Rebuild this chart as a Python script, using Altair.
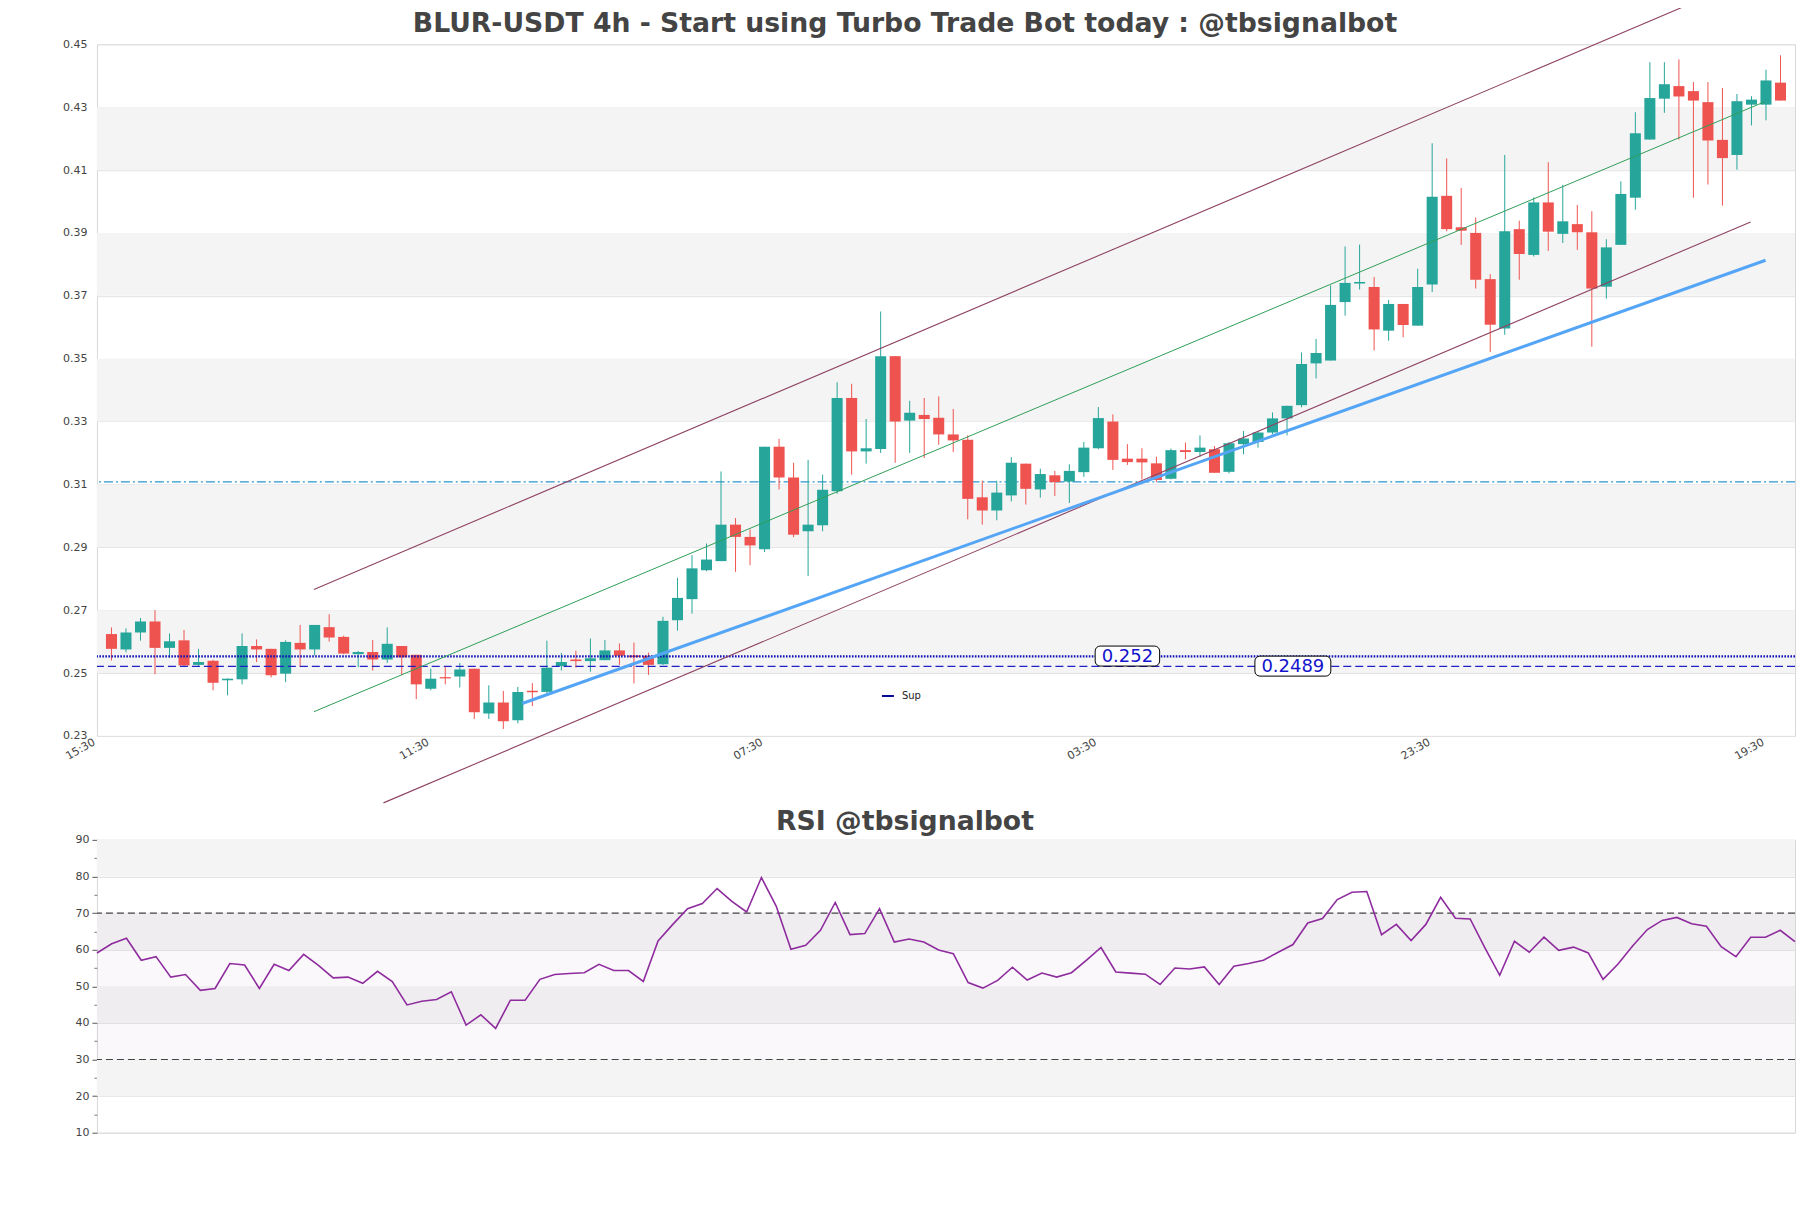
import altair as alt
import pandas as pd

TITLE = "BLUR-USDT 4h - Start using Turbo Trade Bot today : @tbsignalbot"
RSI_TITLE = "RSI @tbsignalbot"

OPEN = [0.2624, 0.2575, 0.2629, 0.2664, 0.2580, 0.2604, 0.2526, 0.2539, 0.2477, 0.2480,
        0.2586, 0.2577, 0.2498, 0.2596, 0.2575, 0.2646, 0.2615, 0.2560, 0.2567, 0.2543,
        0.2586, 0.2558, 0.2450, 0.2487, 0.2489, 0.2514, 0.2371, 0.2406, 0.2350, 0.2444,
        0.2440, 0.2522, 0.2543, 0.2538, 0.2541, 0.2572, 0.2556, 0.2555, 0.2528, 0.2668,
        0.2735, 0.2827, 0.2856, 0.2972, 0.2933, 0.2894, 0.3220, 0.3122, 0.2951, 0.2970,
        0.3078, 0.3375, 0.3205, 0.3213, 0.3508, 0.3303, 0.3321, 0.3312, 0.3259, 0.3242,
        0.3059, 0.3017, 0.3065, 0.3166, 0.3084, 0.3129, 0.3109, 0.3139, 0.3215, 0.3300,
        0.3182, 0.3182, 0.3167, 0.3118, 0.3209, 0.3203, 0.3212, 0.3140, 0.3228, 0.3235,
        0.3265, 0.3310, 0.3352, 0.3485, 0.3494, 0.3680, 0.3739, 0.3728, 0.3589, 0.3674,
        0.3605, 0.3736, 0.4018, 0.3918, 0.3900, 0.3753, 0.3596, 0.3912, 0.3830, 0.3997,
        0.3897, 0.3928, 0.3902, 0.3729, 0.3862, 0.4012, 0.4197, 0.4327, 0.4367, 0.4351,
        0.4316, 0.4196, 0.4148, 0.4308, 0.4308, 0.4378]
HIGH = [0.2645, 0.2642, 0.2675, 0.2700, 0.2626, 0.2637, 0.2577, 0.2542, 0.2483, 0.2626,
        0.2607, 0.2577, 0.2604, 0.2653, 0.2653, 0.2687, 0.2619, 0.2570, 0.2605, 0.2645,
        0.2586, 0.2558, 0.2514, 0.2522, 0.2532, 0.2514, 0.2461, 0.2443, 0.2456, 0.2468,
        0.2603, 0.2564, 0.2571, 0.2610, 0.2605, 0.2594, 0.2597, 0.2565, 0.2679, 0.2803,
        0.2875, 0.2912, 0.3141, 0.2993, 0.2957, 0.3220, 0.3245, 0.3169, 0.3178, 0.3131,
        0.3425, 0.3420, 0.3308, 0.3650, 0.3508, 0.3366, 0.3375, 0.3380, 0.3340, 0.3256,
        0.3112, 0.3112, 0.3187, 0.3166, 0.3150, 0.3143, 0.3164, 0.3235, 0.3346, 0.3323,
        0.3228, 0.3215, 0.3188, 0.3214, 0.3233, 0.3256, 0.3222, 0.3235, 0.3270, 0.3270,
        0.3329, 0.3350, 0.3520, 0.3563, 0.3733, 0.3857, 0.3863, 0.3760, 0.3687, 0.3674,
        0.3786, 0.4185, 0.4137, 0.4043, 0.3949, 0.3769, 0.4148, 0.3939, 0.4013, 0.4125,
        0.4053, 0.3989, 0.3969, 0.3880, 0.4064, 0.4284, 0.4443, 0.4443, 0.4452, 0.4380,
        0.4380, 0.4361, 0.4342, 0.4335, 0.4419, 0.4465]
LOW = [0.2540, 0.2566, 0.2603, 0.2496, 0.2548, 0.2522, 0.2522, 0.2445, 0.2429, 0.2464,
       0.2535, 0.2486, 0.2471, 0.2519, 0.2556, 0.2600, 0.2560, 0.2519, 0.2508, 0.2532,
       0.2493, 0.2417, 0.2445, 0.2464, 0.2454, 0.2354, 0.2354, 0.2322, 0.2340, 0.2395,
       0.2435, 0.2508, 0.2517, 0.2504, 0.2541, 0.2526, 0.2467, 0.2494, 0.2526, 0.2635,
       0.2689, 0.2824, 0.2856, 0.2822, 0.2843, 0.2885, 0.3084, 0.2932, 0.2809, 0.2951,
       0.3070, 0.3131, 0.3166, 0.3200, 0.3169, 0.3200, 0.3184, 0.3226, 0.3203, 0.2989,
       0.2972, 0.2986, 0.3046, 0.3036, 0.3058, 0.3063, 0.3041, 0.3124, 0.3212, 0.3146,
       0.3162, 0.3116, 0.3107, 0.3116, 0.3180, 0.3188, 0.3137, 0.3135, 0.3196, 0.3217,
       0.3260, 0.3256, 0.3345, 0.3437, 0.3494, 0.3637, 0.3720, 0.3526, 0.3557, 0.3568,
       0.3605, 0.3712, 0.3905, 0.3862, 0.3723, 0.3521, 0.3576, 0.3751, 0.3825, 0.3843,
       0.3868, 0.3846, 0.3538, 0.3691, 0.3862, 0.3974, 0.4197, 0.4282, 0.4197, 0.4012,
       0.4054, 0.3987, 0.4101, 0.4242, 0.4258, 0.4321]
CLOSE = [0.2577, 0.2629, 0.2664, 0.2580, 0.2601, 0.2524, 0.2535, 0.2469, 0.2482, 0.2586,
         0.2575, 0.2493, 0.2599, 0.2575, 0.2653, 0.2613, 0.2562, 0.2567, 0.2543, 0.2593,
         0.2550, 0.2464, 0.2482, 0.2483, 0.2511, 0.2375, 0.2406, 0.2347, 0.2440, 0.2439,
         0.2517, 0.2535, 0.2538, 0.2547, 0.2572, 0.2555, 0.2553, 0.2526, 0.2666, 0.2739,
         0.2833, 0.2861, 0.2972, 0.2933, 0.2906, 0.3220, 0.3122, 0.2940, 0.2972, 0.3083,
         0.3375, 0.3205, 0.3215, 0.3508, 0.3300, 0.3328, 0.3308, 0.3259, 0.3240, 0.3054,
         0.3017, 0.3074, 0.3169, 0.3086, 0.3133, 0.3107, 0.3143, 0.3217, 0.3311, 0.3178,
         0.3171, 0.3170, 0.3114, 0.3209, 0.3203, 0.3217, 0.3137, 0.3231, 0.3246, 0.3265,
         0.3310, 0.3350, 0.3483, 0.3518, 0.3671, 0.3741, 0.3744, 0.3593, 0.3674, 0.3607,
         0.3728, 0.4015, 0.3912, 0.3907, 0.3751, 0.3608, 0.3905, 0.3833, 0.3997, 0.3904,
         0.3937, 0.3902, 0.3723, 0.3854, 0.4024, 0.4217, 0.4329, 0.4373, 0.4334, 0.4321,
         0.4194, 0.4138, 0.4319, 0.4324, 0.4385, 0.4321]

RSI = [59.1, 61.6, 63.1, 57.1, 58.1, 52.5, 53.2, 48.9, 49.4, 56.2,
       55.8, 49.4, 56.0, 54.3, 58.7, 55.7, 52.3, 52.5, 50.8, 54.1,
       51.3, 44.9, 45.9, 46.4, 48.5, 39.4, 42.2, 38.5, 46.2, 46.2,
       51.9, 53.2, 53.5, 53.7, 56.0, 54.3, 54.3, 51.3, 62.4, 66.9,
       71.2, 72.6, 76.7, 73.2, 70.3, 79.7, 71.9, 60.1, 61.2, 65.3,
       72.9, 64.1, 64.4, 71.2, 62.1, 62.9, 62.1, 59.9, 58.9, 51.0,
       49.5, 51.6, 55.2, 51.7, 53.6, 52.5, 53.7, 57.1, 60.6, 53.9,
       53.6, 53.3, 50.5, 55.0, 54.7, 55.3, 50.5, 55.5, 56.2, 57.1,
       59.3, 61.4, 67.3, 68.5, 73.7, 75.7, 75.9, 64.1, 66.9, 62.5,
       66.9, 74.3, 68.6, 68.4, 60.5, 53.0, 62.3, 59.3, 63.4, 59.8,
       60.7, 59.1, 51.9, 56.0, 61.0, 65.5, 68.0, 68.8, 67.1, 66.4,
       60.8, 58.1, 63.4, 63.4, 65.3, 62.2]

TICK_POS = [-1, 22, 45, 68, 91, 114]
TICK_LABELS = ["15:30", "11:30", "07:30", "03:30", "23:30", "19:30"]
PRICE_TICKS = [0.23, 0.25, 0.27, 0.29, 0.31, 0.33, 0.35, 0.37, 0.39, 0.41, 0.43, 0.45]
PRICE_BAND_LO = [0.25, 0.29, 0.33, 0.37, 0.41]
PRICE_BAND_HI = [0.27, 0.31, 0.35, 0.39, 0.43]
RSI_TICKS = [10, 20, 30, 40, 50, 60, 70, 80, 90]
RSI_MINOR = [15, 25, 35, 45, 55, 65, 75, 85]
RSI_BAND_LO = [20, 40, 60, 80]
RSI_BAND_HI = [30, 50, 70, 90]
RSI_LEVELS = [70, 30]

TREND_NAME = ["upper", "middle", "lower", "support"]
TREND_X0 = [13.95, 13.95, 18.74, 28.3]
TREND_Y0 = [0.2766, 0.2377, 0.2087, 0.2403]
TREND_X1 = [108.24, 113.9, 112.94, 113.97]
TREND_Y1 = [0.4618, 0.4317, 0.3935, 0.3813]

PIVOT_LEVEL = [0.3108]
DOTTED_LEVEL = [0.2553]
DASHED_LEVEL = [0.2521]

LABEL_TEXT = ["0.252", "0.2489"]
LABEL_X = [70.0, 81.4]
LABEL_Y = [0.2554, 0.2522]

LEGEND_TEXT = ["Sup"]
LEGEND_X = [53.5]
LEGEND_Y = [0.2427]

# ---------------- layout constants ----------------
W = 1699
H_PRICE = 692
H_RSI = 293
X_DOMAIN = [-1, 116]
Y_DOMAIN = [0.23, 0.45]
PX_PER_I = W / (X_DOMAIN[1] - X_DOMAIN[0])
PX_PER_Y = H_PRICE / (Y_DOMAIN[1] - Y_DOMAIN[0])
FONT = "DejaVu Sans"
TITLE_DX = -41

n = len(OPEN)
candles = pd.DataFrame({"i": list(range(n)), "open": OPEN, "high": HIGH,
                        "low": LOW, "close": CLOSE})
candles["dir"] = ["up" if c >= o else "down" for o, c in zip(OPEN, CLOSE)]

bands = pd.DataFrame({"lo": PRICE_BAND_LO, "hi": PRICE_BAND_HI,
                      "a": [X_DOMAIN[0]] * len(PRICE_BAND_LO),
                      "b": [X_DOMAIN[1]] * len(PRICE_BAND_LO)})
trend_rows = []
for nm, x0, y0, x1, y1 in zip(TREND_NAME, TREND_X0, TREND_Y0, TREND_X1, TREND_Y1):
    trend_rows.append({"name": nm, "x": x0, "y": y0})
    trend_rows.append({"name": nm, "x": x1, "y": y1})
trend = pd.DataFrame(trend_rows)
labels = pd.DataFrame({"label": LABEL_TEXT, "x": LABEL_X, "y": LABEL_Y})
legend = pd.DataFrame({"label": LEGEND_TEXT, "x": LEGEND_X, "y": LEGEND_Y})

xscale = alt.Scale(domain=X_DOMAIN, nice=False, zero=False)
yscale = alt.Scale(domain=Y_DOMAIN, nice=False, zero=False)

label_expr = ""
for p, l in zip(TICK_POS, TICK_LABELS):
    label_expr += f"datum.value == {p} ? '{l}' : "
label_expr += "''"

x_axis = alt.Axis(values=TICK_POS, labelExpr=label_expr, labelAngle=-30,
                  labelAlign="right", labelBaseline="top", ticks=False,
                  domain=False, grid=False, title=None, labelPadding=0,
                  labelOffset=-6, labelFontSize=11, labelColor="#444444",
                  orient="bottom")
y_axis = alt.Axis(values=PRICE_TICKS, format=".2f", ticks=False, domain=False,
                  grid=True, gridColor="#e2e2e2", gridWidth=1, title=None,
                  labelPadding=10, labelFontSize=11, labelColor="#444444",
                  orient="left")


def X(field):
    return alt.X(field, type="quantitative", scale=xscale, axis=x_axis)


def Y(field):
    return alt.Y(field, type="quantitative", scale=yscale, axis=y_axis)


band_layer = alt.Chart(bands).mark_rect(color="#f4f4f4").encode(
    x=X("a"), x2="b", y=Y("lo"), y2="hi",
)

pivot = alt.Chart(pd.DataFrame({"v": PIVOT_LEVEL})).mark_rule(
    color="#2b95d0", strokeWidth=1.3, strokeDash=[9, 3, 2, 3]
).encode(y=Y("v"))
dotted = alt.Chart(pd.DataFrame({"v": DOTTED_LEVEL})).mark_rule(
    color="#1010b8", strokeWidth=2.4, strokeDash=[1.6, 1.4]
).encode(y=Y("v"))
dashed = alt.Chart(pd.DataFrame({"v": DASHED_LEVEL})).mark_rule(
    color="#2020c8", strokeWidth=1.3, strokeDash=[8, 4]
).encode(y=Y("v"))

color_scale = alt.Scale(domain=["up", "down"], range=["#26a69a", "#ef5350"])

wicks = alt.Chart(candles).mark_rule(strokeWidth=1).encode(
    x=X("i"), y=Y("low"), y2="high",
    color=alt.Color("dir:N", scale=color_scale, legend=None),
)
bodies = alt.Chart(candles).transform_calculate(
    x0="datum.i - 0.38", x1="datum.i + 0.38",
    top="max(datum.open, datum.close)",
    bot="min(datum.open, datum.close) - 0.00025*(abs(datum.open-datum.close) < 0.0003)",
).mark_rect().encode(
    x=X("x0"), x2="x1", y=Y("bot"), y2="top",
    color=alt.Color("dir:N", scale=color_scale, legend=None),
)


def trend_line(name, color, width):
    return alt.Chart(trend).transform_filter(
        alt.datum.name == name
    ).mark_line(color=color, strokeWidth=width).encode(x=X("x"), y=Y("y"))


upper = trend_line("upper", "#8e4363", 1.1)
middle = trend_line("middle", "#2f9e56", 1.0)
lower = trend_line("lower", "#8e4363", 1.1)
support = trend_line("support", "#55a5f7", 3.0)

label_calc = alt.Chart(labels).transform_calculate(
    hw="((length(datum.label) - 1) * 11.45 + 5.7) / 2 + 6.5",
).transform_calculate(
    bx0=f"datum.x - datum.hw / {PX_PER_I}",
    bx1=f"datum.x + datum.hw / {PX_PER_I}",
    by0=f"datum.y - 10 / {PX_PER_Y}",
    by1=f"datum.y + 10 / {PX_PER_Y}",
)
label_box = label_calc.mark_rect(
    fill="white", stroke="black", strokeWidth=1, cornerRadius=5
).encode(x=X("bx0"), x2="bx1", y=Y("by0"), y2="by1")
label_text = alt.Chart(labels).mark_text(
    font=FONT, fontSize=18, color="#1414cc", align="center", baseline="middle", dy=1
).encode(x=X("x"), y=Y("y"), text="label:N")

legend_line = alt.Chart(legend).transform_calculate(
    lx0=f"datum.x - 6 / {PX_PER_I}", lx1=f"datum.x + 6 / {PX_PER_I}"
).mark_rule(color="#0a0a9a", strokeWidth=2).encode(
    x=X("lx0"), x2="lx1", y=Y("y"),
)
legend_text = alt.Chart(legend).transform_calculate(
    tx=f"datum.x + 14 / {PX_PER_I}"
).mark_text(font=FONT, fontSize=10, color="#222222", align="left", baseline="middle").encode(
    x=X("tx"), y=Y("y"), text="label:N",
)

price_title = alt.Chart(pd.DataFrame({"t": [TITLE]})).mark_text(
    font=FONT, fontSize=26.7, fontWeight="bold", color="#444444",
    align="center", baseline="alphabetic",
).encode(x=alt.value(W / 2 + TITLE_DX), y=alt.value(-12), text="t:N")

price = alt.layer(
    band_layer, pivot, wicks, bodies, dotted, dashed,
    upper, middle, lower, support, label_box, label_text, legend_line, legend_text,
    price_title,
).properties(width=W, height=H_PRICE)

# ---------------- RSI panel ----------------
rsi_df = pd.DataFrame({"k": list(range(len(RSI))), "rsi": RSI})
rsi_x = alt.Scale(domain=[0, len(RSI) - 1], nice=False, zero=False)
rsi_y = alt.Scale(domain=[10, 90], nice=False, zero=False)

rsi_axis = alt.Axis(values=RSI_TICKS, ticks=True, tickSize=5, tickColor="#555555",
                    domain=False, grid=True, gridColor="#dedede", title=None,
                    labelPadding=3, labelFontSize=11, labelColor="#444444",
                    orient="left")
minor_axis = alt.Axis(values=RSI_MINOR, ticks=True, tickSize=3, tickColor="#777777",
                      domain=False, grid=False, labels=False, title=None,
                      orient="left")

rsi_bands = alt.Chart(pd.DataFrame({"lo": RSI_BAND_LO, "hi": RSI_BAND_HI})).mark_rect(
    color="#f4f4f4"
).encode(
    x=alt.value(0), x2=alt.value(W),
    y=alt.Y("lo:Q", scale=rsi_y, axis=rsi_axis), y2="hi:Q",
)
hatch = alt.Chart(pd.DataFrame({"lo": [min(RSI_LEVELS)], "hi": [max(RSI_LEVELS)]})).mark_rect(
    color="#9c5bb0", opacity=0.045
).encode(
    x=alt.value(0), x2=alt.value(W),
    y=alt.Y("lo:Q", scale=rsi_y, axis=minor_axis), y2="hi:Q",
)
rsi_levels = alt.Chart(pd.DataFrame({"v": RSI_LEVELS})).mark_rule(
    color="#444444", strokeWidth=1.2, strokeDash=[7, 4]
).encode(y=alt.Y("v:Q", scale=rsi_y, axis=None))
rsi_line = alt.Chart(rsi_df).mark_line(color="#8e2c9e", strokeWidth=1.6).encode(
    x=alt.X("k:Q", scale=rsi_x, axis=None),
    y=alt.Y("rsi:Q", scale=rsi_y, axis=None),
)
rsi_title = alt.Chart(pd.DataFrame({"t": [RSI_TITLE]})).mark_text(
    font=FONT, fontSize=26.7, fontWeight="bold", color="#444444",
    align="center", baseline="alphabetic",
).encode(x=alt.value(W / 2 + TITLE_DX), y=alt.value(-10), text="t:N")

rsi = alt.layer(rsi_bands, hatch, rsi_levels, rsi_line, rsi_title).resolve_axis(
    y="independent"
).properties(width=W, height=H_RSI)

chart = alt.vconcat(price, rsi, spacing=104, bounds="flush").properties(
    padding={"left": 54, "top": -4, "right": 4, "bottom": 6},
    background="white",
).configure(font=FONT).configure_view(stroke="#d8d8d8", strokeWidth=1).configure_axis(
    labelFont=FONT
)

chart.save("out.html", embed_options={"renderer": "svg", "actions": False})
